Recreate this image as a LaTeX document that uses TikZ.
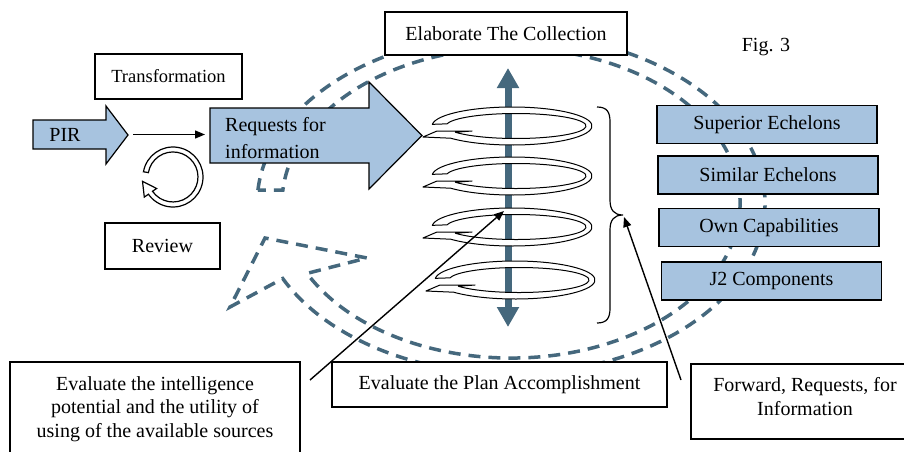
\documentclass[tikz,border=0pt]{standalone}
\usepackage{fontspec}
\setmainfont{Liberation Serif}
\usetikzlibrary{arrows.meta}
\definecolor{paleblue}{RGB}{167,195,223}
\definecolor{slateblue}{RGB}{69,104,125}
\tikzset{
  % one turn of the coil: an open elliptical band ending in a small head
  coil/.pic={
    \draw[fill=white, line width=1pt, line join=round]
      (185:80 and 19) arc[start angle=185, end angle=500, x radius=80, y radius=19]
      -- (-89,11) -- (-75,5) -- (-40,5) -- (-56.6,6.25)
      arc[start angle=510, end angle=190, x radius=70, y radius=12.5]
      -- cycle;
  }
}
\begin{document}
\begin{tikzpicture}[x=1pt, y=-1pt,
  every node/.style={font=\rmfamily\fontsize{20}{23.5}\selectfont, inner sep=0pt},
  box/.style={draw=black, line width=1.3pt, fill=white},
  tag/.style={box, fill=paleblue, minimum width=220pt, minimum height=38pt},
  blockarrow/.style={draw=black, line width=1.2pt, fill=paleblue, line join=miter},
  pointer/.style={draw=black, line width=1.4pt, -{Triangle[length=10pt, width=8pt]}},
  cycleband/.style={draw=slateblue, line width=3.5pt, dash pattern=on 12pt off 8pt, line join=miter},
  shaft/.style={draw=slateblue, line width=7pt, {Triangle[length=20pt, width=21pt]}-{Triangle[length=20pt, width=21pt]}},
  ring/.style={draw=black, fill=white, line width=1.2pt, line join=miter},
]
\path[use as bounding box, clip] (0,0) rectangle (904,452);

% large dashed cycle arrow (clockwise, head at lower left)
\draw[cycleband]
  (257.9,190.1) arc[start angle=184.7, end angle=514, x radius=254, y radius=170]
  -- (230,307) -- (265,238) -- (367,258) -- (307,273.4)
  arc[start angle=513, end angle=184.8, x radius=229, y radius=155]
  -- cycle;

% top and left labels
\node[box, minimum width=242pt, minimum height=43pt] (collect) at (506,33.5) {Elaborate The Collection};
\node (fig) at (766,47) {Fig. 3};
\node[box, minimum width=147pt, minimum height=45pt, font=\rmfamily\fontsize{18.5}{22}\selectfont] (transf) at (168.5,76.5) {Transformation};
\node[box, minimum width=115pt, minimum height=46pt] (review) at (162.5,246) {Review};

% PIR block arrow
\draw[blockarrow] (33,120) -- (106,120) -- (106,106) -- (128,135) -- (106,164) -- (106,149) -- (33,149) -- cycle;
\node (pir) at (65,135) {PIR};

% requests block arrow
\draw[blockarrow] (210,108) -- (369,108) -- (369,82) -- (422,135.5) -- (369,189) -- (369,163) -- (210,163) -- cycle;
\node[align=left, anchor=west, font=\rmfamily\fontsize{20}{27}\selectfont] (rfi) at (225,138) {Requests for\\information};

\coordinate (pirtip) at (133,134.5);
\coordinate (rfitail) at (205,134.5);
\draw[pointer] (pirtip) -- (rfitail);

% review cycle
\draw[ring]
  (173,177) ++(190:30) arc[start angle=190, end angle=505, radius=30]
  -- (144.3,197.1) -- (142.5,181.3) -- (156.6,188.5) -- (152.5,191.3)
  arc[start angle=505, end angle=190, radius=25] -- cycle;

% sources
\node[tag] (sup) at (767,124.5) {Superior Echelons};
\node[tag] (sim) at (768,175) {Similar Echelons};
\node[tag] (own) at (769,227.5) {Own Capabilities};
\node[tag] (j2) at (771.5,281) {J2 Components};

% central axis and coil
\coordinate (axtop) at (508,68);
\coordinate (axbot) at (508,327);
\draw[shaft] (axtop) -- (axbot);
\pic at (512,126) {coil};
\pic at (512,176) {coil};
\pic at (512,227) {coil};
\pic at (515,280) {coil};

% brace grouping the coil
\draw[line width=1.2pt]
  (597,107) .. controls (607,107) and (610,112) .. (610,122) -- (610,200)
  .. controls (610,210) and (614,215) .. (623,215)
  .. controls (614,215) and (610,220) .. (610,230) -- (610,308)
  .. controls (610,318) and (607,323) .. (597,323);
\coordinate (bracetip) at (624,217);

% bottom labels
\node[box, minimum width=335pt, minimum height=45pt] (plan) at (499.5,384.5) {Evaluate the Plan Accomplishment};
\node[box, minimum width=290pt, minimum height=94pt, align=center] (intel) at (155,409) {Evaluate the intelligence\\potential and the utility of\\using of the available sources};
\node[box, minimum width=228pt, minimum height=75pt] (fwdbox) at (805,401.5) {};
\node[align=center] (fwd) at (805,396.5) {Forward, Requests, for\\Information};

% pointers into the coil and the brace
\coordinate (intelfoot) at (310,380);
\coordinate (coilmark) at (504,211);
\draw[pointer] (intelfoot) -- (coilmark);
\coordinate (fwdfoot) at (681,380);
\draw[pointer] (fwdfoot) -- (bracetip);
\end{tikzpicture}
\end{document}
